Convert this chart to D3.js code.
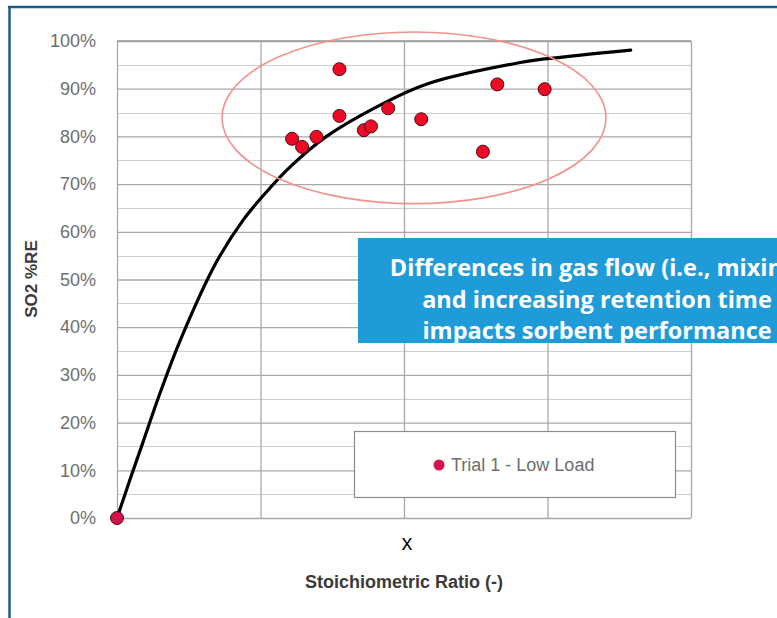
<!DOCTYPE html>
<html>
<head>
<meta charset="utf-8">
<script src="https://cdn.jsdelivr.net/npm/d3@7"></script>
<style>
  body { margin: 0; background: #fff; }
  svg { display: block; }
</style>
</head>
<body>
<div id="so2_chart"></div>
<script>
// values
var seriesName = "Trial 1 - Low Load";
var ratio = [0, 1.22, 1.29, 1.39, 1.55, 1.55, 1.72, 1.77, 1.89, 2.12, 2.55, 2.65, 2.98];
var removal = [0, 0.795, 0.778, 0.799, 0.941, 0.843, 0.813, 0.821, 0.859, 0.836, 0.768, 0.909, 0.899];

// trend line as drawn in the picture
var fitRatio = [0, 0.09, 0.18, 0.30, 0.44, 0.69, 0.88, 1.04, 1.21, 1.46, 1.81, 2.16, 2.81, 3.0, 3.58];
var fitRemoval = [0, 0.08, 0.158, 0.262, 0.372, 0.535, 0.625, 0.683, 0.737, 0.80, 0.862, 0.91, 0.955, 0.963, 0.981];

var yTicks = [0, 0.1, 0.2, 0.3, 0.4, 0.5, 0.6, 0.7, 0.8, 0.9, 1];
var yMinor = [0.05, 0.15, 0.25, 0.35, 0.45, 0.55, 0.65, 0.75, 0.85, 0.95];
var xTicks = [0, 1, 2, 3, 4];

var yTitle = "SO2 %RE";
var xTitle = "Stoichiometric Ratio (-)";
var xMark = "x";
var noteLines = [
  "Differences in gas flow (i.e., mixing)",
  "and increasing retention time",
  "impacts sorbent performance"
];

(function () {

  var w = 777;
  var h = 618;

  var plot = { left: 117, right: 691, top: 41, bottom: 518 };

  var x = d3.scaleLinear()
    .domain([0, 4])
    .range([plot.left, plot.right]);

  var y = d3.scaleLinear()
    .domain([0, 1])
    .range([plot.bottom, plot.top]);

  var svg = d3.select("#so2_chart")
    .append("svg")
    .attr("width", w)
    .attr("height", h);

  // outer frame (slide border)
  svg.append("line")
    .attr("x1", 8).attr("x2", w)
    .attr("y1", 7).attr("y2", 7)
    .style("stroke", "#1d5e85")
    .style("stroke-width", 2.5);
  svg.append("line")
    .attr("x1", 9.5).attr("x2", 9.5)
    .attr("y1", 6).attr("y2", h)
    .style("stroke", "#1d5e85")
    .style("stroke-width", 2.5);

  // gridlines
  svg.append("g")
    .selectAll("line")
    .data(yMinor)
    .enter()
    .append("line")
    .attr("x1", plot.left).attr("x2", plot.right)
    .attr("y1", function(d){ return Math.round(y(d)) + 0.5 })
    .attr("y2", function(d){ return Math.round(y(d)) + 0.5 })
    .style("stroke", "#cfcfcf")
    .style("stroke-width", 1.2);

  var yAxis = d3.axisLeft(y)
    .tickValues(yTicks)
    .tickSize(-(plot.right - plot.left))
    .tickPadding(21)
    .tickFormat(d3.format(".0%"));

  var gy = svg.append("g")
    .attr("transform", "translate(" + plot.left + ",0)")
    .call(yAxis);
  gy.select(".domain").remove();
  gy.selectAll(".tick line")
    .style("stroke", "#a9a9a9")
    .style("stroke-width", 1.3);
  gy.selectAll(".tick text")
    .style("font-family", "'Liberation Sans', Arial, sans-serif")
    .style("font-size", "18px")
    .style("fill", "#6e6e6e");

  var xAxis = d3.axisBottom(x)
    .tickValues(xTicks)
    .tickSize(-(plot.bottom - plot.top))
    .tickFormat("");

  var gx = svg.append("g")
    .attr("transform", "translate(0," + plot.bottom + ")")
    .call(xAxis);
  gx.select(".domain").remove();
  gx.selectAll(".tick line")
    .style("stroke", "#a9a9a9")
    .style("stroke-width", 1.3);

  // top edge of plot area
  svg.append("line")
    .attr("x1", plot.left).attr("x2", plot.right)
    .attr("y1", plot.top).attr("y2", plot.top)
    .style("stroke", "#9a9a9a")
    .style("stroke-width", 1.5);

  // trend line
  var fit = fitRatio.map(function(d, i){ return [d, fitRemoval[i]] });
  var line = d3.line()
    .x(function(d){ return x(d[0]) })
    .y(function(d){ return y(d[1]) })
    .curve(d3.curveCatmullRom.alpha(0.5));

  svg.append("path")
    .datum(fit)
    .attr("d", line)
    .style("fill", "none")
    .style("stroke", "#000")
    .style("stroke-width", 3.2)
    .style("stroke-linecap", "round");

  // highlight ellipse
  svg.append("ellipse")
    .attr("cx", x(2.07))
    .attr("cy", y(0.839))
    .attr("rx", x(1.338) - x(0))
    .attr("ry", y(0) - y(0.18))
    .style("fill", "none")
    .style("stroke", "#f2928c")
    .style("stroke-width", 1.6);

  // trial points
  var pts = ratio.map(function(d, i){ return { r: d, v: removal[i] } });
  svg.selectAll(".pt")
    .data(pts)
    .enter()
    .append("circle")
    .attr("class", "pt")
    .attr("cx", function(d){ return x(d.r) })
    .attr("cy", function(d){ return y(d.v) })
    .attr("r", 6.5)
    .style("fill", function(d){ return d.r == 0 ? "#d4124c" : "#ee0a24" })
    .style("stroke", "#4a0a14")
    .style("stroke-width", 1);

  // legend
  svg.append("rect")
    .attr("x", 354.5).attr("y", 431.5)
    .attr("width", 321).attr("height", 66)
    .style("fill", "#fff")
    .style("stroke", "#8c8c8c")
    .style("stroke-width", 1.2);
  svg.append("circle")
    .attr("cx", 439).attr("cy", 465)
    .attr("r", 5.5)
    .style("fill", "#d4124c");
  svg.append("text")
    .attr("x", 451).attr("y", 471)
    .text(seriesName)
    .style("font-family", "'Liberation Sans', Arial, sans-serif")
    .style("font-size", "18px")
    .style("fill", "#6e6e6e");

  // callout box
  svg.append("rect")
    .attr("x", 358).attr("y", 238)
    .attr("width", 500).attr("height", 105)
    .style("fill", "#1f9bd7");

  svg.selectAll(".note")
    .data(noteLines)
    .enter()
    .append("text")
    .attr("class", "note")
    .attr("x", 597)
    .attr("y", function(d, i){ return 276 + i * 31.5 })
    .attr("text-anchor", "middle")
    .text(function(d){ return d })
    .style("font-family", "'Open Sans', sans-serif")
    .style("font-weight", "bold")
    .style("font-size", "23.5px")
    .style("fill", "#fff");

  // axis titles
  svg.append("text")
    .attr("transform", "translate(37,279) rotate(-90)")
    .attr("text-anchor", "middle")
    .text(yTitle)
    .style("font-family", "'Liberation Sans', Arial, sans-serif")
    .style("font-weight", "bold")
    .style("font-size", "17px")
    .style("fill", "#3a3a3a");

  svg.append("text")
    .attr("x", 404).attr("y", 588)
    .attr("text-anchor", "middle")
    .text(xTitle)
    .style("font-family", "'Liberation Sans', Arial, sans-serif")
    .style("font-weight", "bold")
    .style("font-size", "18px")
    .style("fill", "#3a3a3a");

  svg.append("text")
    .attr("x", 407).attr("y", 550)
    .attr("text-anchor", "middle")
    .text(xMark)
    .style("font-family", "'Open Sans', sans-serif")
    .style("font-size", "21px")
    .style("fill", "#000");

})()
</script>
</body>
</html>
